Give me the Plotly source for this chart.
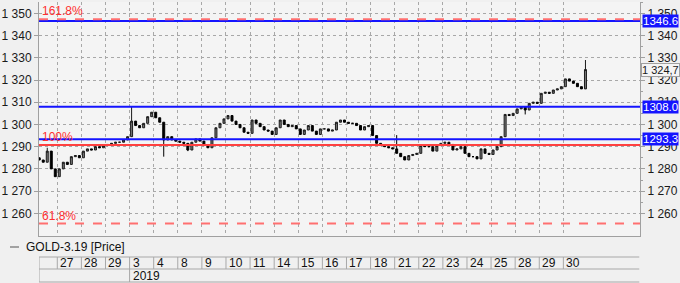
import plotly.graph_objects as go

# ---------------- data ----------------
day_labels = ["27", "28", "29", "3", "4", "8", "9", "10", "11", "14", "15", "16",
              "17", "18", "21", "22", "23", "24", "25", "28", "29", "30"]
year_label = "2019"
year_start_day = 3          # index of first 2019 day (Jan 3)
bars_per_day = 6

# partial session before Dec 27 (last 5 bars of Dec 26)
dec26_closes = [1284.0, 1283.0, 1288.0, 1280.0, 1276.5]
first_open = 1285.0

day_closes = [
    [1280.0, 1283.0, 1282.0, 1285.5, 1286.0, 1285.0],   # 27
    [1288.0, 1289.0, 1288.5, 1290.0, 1289.5, 1290.5],   # 28
    [1291.0, 1291.5, 1292.0, 1292.0, 1293.0, 1294.5],   # 29
    [1301.5, 1299.5, 1298.5, 1300.5, 1303.5, 1305.5],   # 3
    [1303.0, 1301.0, 1293.0, 1294.5, 1293.0, 1292.5],   # 4
    [1292.0, 1291.5, 1288.5, 1292.0, 1293.5, 1292.5],   # 8
    [1290.5, 1289.5, 1294.0, 1298.5, 1300.5, 1302.5],   # 9
    [1304.0, 1301.5, 1300.0, 1298.5, 1296.5, 1296.0],   # 10
    [1302.0, 1300.5, 1299.0, 1297.5, 1297.0, 1295.5],   # 11
    [1298.5, 1302.0, 1300.0, 1299.0, 1299.5, 1298.0],   # 14
    [1295.5, 1297.5, 1299.5, 1297.0, 1295.5, 1298.0],   # 15
    [1298.0, 1297.0, 1297.5, 1301.0, 1302.0, 1301.0],   # 16
    [1300.5, 1300.5, 1299.5, 1297.5, 1299.0, 1299.5],   # 17
    [1295.0, 1291.5, 1290.5, 1290.0, 1289.5, 1289.0],   # 18
    [1287.0, 1285.5, 1284.0, 1286.0, 1286.5, 1287.0],   # 21
    [1290.5, 1290.0, 1290.0, 1288.0, 1290.5, 1291.5],   # 22
    [1292.0, 1291.0, 1288.5, 1289.0, 1290.0, 1287.0],   # 23
    [1285.5, 1285.5, 1284.5, 1289.0, 1287.0, 1286.5],   # 24
    [1288.5, 1290.0, 1294.5, 1304.5, 1304.0, 1305.0],   # 25
    [1307.0, 1308.0, 1306.5, 1309.5, 1310.0, 1309.5],   # 28
    [1314.0, 1314.5, 1314.0, 1315.5, 1316.0, 1317.0],   # 29
    [1320.5, 1319.5, 1318.5, 1317.0, 1316.0, 1324.7],   # 30
]

# notable wicks: (day index, bar in day, price)   day -1 = Dec 26 partial
wick_highs = [(-1, 2, 1289.5), (3, 0, 1308.0), (14, 0, 1295.2), (21, 5, 1329.0)]
wick_lows = [(4, 2, 1285.5), (5, 2, 1288.0), (19, 2, 1304.5)]

# horizontal levels
blue_levels = [1346.6, 1308.0, 1293.3]
blue_labels = ["1346.6", "1308.0", "1293.3"]
fib_levels = [1347.3, 1290.7, 1255.4]
fib_labels = ["161.8%", "100%", "61.8%"]
fib_dash = ["dash", "solid", "dash"]
last_price = 1324.7
last_label = "1 324,7"

y_ticks = [1260, 1270, 1280, 1290, 1300, 1310, 1320, 1330, 1340, 1350]
y_ticktext = ["1 260", "1 270", "1 280", "1 290", "1 300", "1 310", "1 320", "1 330", "1 340", "1 350"]
y_range = [1249.8, 1355.1]
x_range = [-0.759, 24.18]

legend_name = "GOLD-3.19 [Price]"

# ---------------- build OHLC ----------------
xs, opens, closes, highs, lows = [], [], [], [], []
keys = []
for i, c in enumerate(dec26_closes):
    b = i + (bars_per_day - len(dec26_closes))
    xs.append(-1 + (b + 0.5) / bars_per_day)
    closes.append(c)
    keys.append((-1, i))
for d, dc in enumerate(day_closes):
    for b, c in enumerate(dc):
        xs.append(d + (b + 0.5) / bars_per_day)
        closes.append(c)
        keys.append((d, b))
prev = first_open
for c in closes:
    opens.append(prev)
    highs.append(max(prev, c))
    lows.append(min(prev, c))
    prev = c
hmap = {(d, b): v for d, b, v in wick_highs}
lmap = {(d, b): v for d, b, v in wick_lows}
for k, key in enumerate(keys):
    if key in hmap:
        highs[k] = max(highs[k], hmap[key])
    if key in lmap:
        lows[k] = min(lows[k], lmap[key])

fig = go.Figure()
fig.add_trace(go.Candlestick(
    x=xs, open=opens, high=highs, low=lows, close=closes,
    increasing=dict(line=dict(color="#1a1a1a", width=1), fillcolor="#7a7a7a"),
    decreasing=dict(line=dict(color="#000000", width=1), fillcolor="#000000"),
    whiskerwidth=0, showlegend=False, hoverinfo="skip"))
# invisible trace to activate right axis
fig.add_trace(go.Scatter(x=[xs[0]], y=[closes[0]], yaxis="y2", mode="markers",
                         marker=dict(opacity=0), showlegend=False, hoverinfo="skip"))

shapes = []
annotations = []
# horizontal level lines
for lv in blue_levels:
    shapes.append(dict(type="line", xref="paper", x0=0, x1=1, yref="y", y0=lv, y1=lv,
                       line=dict(color="#1414ff", width=2), layer="above"))
for lv, lab, dsh in zip(fib_levels, fib_labels, fib_dash):
    col = "#ff4040" if dsh == "solid" else "#ff7070"
    shapes.append(dict(type="line", xref="paper", x0=0, x1=1, yref="y", y0=lv, y1=lv,
                       line=dict(color=col, width=2, dash="dash" if dsh == "dash" else "solid"),
                       layer="above"))
    annotations.append(dict(text=lab, xref="paper", x=0, xanchor="left", xshift=1,
                            yref="y", y=lv, yanchor="bottom", yshift=-1, showarrow=False,
                            font=dict(color="#ff3030", size=12, family="Liberation Sans")))
# right-side value boxes
for lv, lab in zip(blue_levels, blue_labels):
    annotations.append(dict(text=lab, xref="paper", x=1, xanchor="left", xshift=2,
                            yref="y", y=lv, yanchor="middle", showarrow=False,
                            bgcolor="#1414ff", borderpad=0,
                            font=dict(color="white", size=11.5, family="Liberation Sans")))
annotations.append(dict(text=last_label, xref="paper", x=1, xanchor="left", xshift=1,
                        yref="y", y=last_price, yanchor="middle", showarrow=False,
                        bgcolor="#f4f4f4", bordercolor="#a0a0a0", borderwidth=1, borderpad=0,
                        font=dict(color="#1a1a1a", size=11, family="Liberation Sans")))

# ---------------- date table below ----------------
def py(pix):  # pixel row -> paper y (plot spans pixel rows 2..236)
    return (236 - pix) / 234.0

r_top, r_mid, r_bot = py(257), py(269), py(282)
tbl_col = "#a8a8a8"
for yy in (r_top, r_mid, r_bot):
    shapes.append(dict(type="line", xref="x", x0=x_range[0], x1=24.15, yref="paper", y0=yy, y1=yy,
                       line=dict(color=tbl_col, width=1)))
shapes.append(dict(type="line", xref="x", x0=x_range[0], x1=x_range[0], yref="paper", y0=r_top, y1=r_bot,
                   line=dict(color=tbl_col, width=1)))
for d, lab in enumerate(day_labels):
    shapes.append(dict(type="line", xref="x", x0=d, x1=d, yref="paper", y0=r_top, y1=r_mid,
                       line=dict(color=tbl_col, width=1)))
    annotations.append(dict(text=lab, xref="x", x=d, xanchor="left", xshift=1,
                            yref="paper", y=(r_top + r_mid) / 2, yanchor="middle", showarrow=False,
                            font=dict(color="#111", size=12, family="Liberation Sans")))
shapes.append(dict(type="line", xref="x", x0=year_start_day, x1=year_start_day, yref="paper",
                   y0=r_mid, y1=r_bot, line=dict(color=tbl_col, width=1)))
annotations.append(dict(text=year_label, xref="x", x=year_start_day, xanchor="left", xshift=1,
                        yref="paper", y=(r_mid + r_bot) / 2, yanchor="middle", showarrow=False,
                        font=dict(color="#111", size=12, family="Liberation Sans")))
# legend line
shapes.append(dict(type="line", xref="paper", x0=(10 - 39) / 601, x1=(19 - 39) / 601,
                   yref="paper", y0=py(247), y1=py(247), line=dict(color="#555", width=1)))
annotations.append(dict(text=legend_name, xref="paper", x=(24 - 39) / 601, xanchor="left",
                        yref="paper", y=py(247), yanchor="middle", showarrow=False,
                        font=dict(color="#111", size=12, family="Liberation Sans")))

axis_font = dict(color="#1a1a1a", size=12, family="Liberation Sans")
fig.update_layout(
    width=680, height=283,
    margin=dict(l=39, r=40, t=2, b=47),
    paper_bgcolor="#f0f0f0", plot_bgcolor="#f4f4f4",
    shapes=shapes, annotations=annotations,
    xaxis=dict(range=x_range, tickmode="array", tickvals=list(range(len(day_labels))),
               showticklabels=False, ticks="", showgrid=True, gridcolor="#a8a8a8",
               griddash="dot", gridwidth=1, showline=True, linecolor="#a0a0a0",
               mirror=False, zeroline=False, rangeslider=dict(visible=False), fixedrange=True),
    yaxis=dict(range=y_range, tickmode="array", tickvals=y_ticks, ticktext=y_ticktext,
               tickfont=axis_font, ticks="outside", ticklen=4, tickcolor="#a0a0a0",
               showgrid=True, gridcolor="#a8a8a8", griddash="dot", gridwidth=1,
               showline=True, linecolor="#a0a0a0", zeroline=False),
    yaxis2=dict(range=y_range, overlaying="y", side="right", tickmode="array",
                tickvals=y_ticks, ticktext=y_ticktext, tickfont=axis_font,
                ticks="outside", ticklen=4, tickcolor="#a0a0a0",
                minor=dict(tickvals=[v + 5 for v in y_ticks], ticklen=2, tickcolor="#a0a0a0", ticks="outside"),
                showgrid=False, showline=True, linecolor="#a0a0a0", zeroline=False),
    showlegend=False,
)
fig.write_html("out.html")
